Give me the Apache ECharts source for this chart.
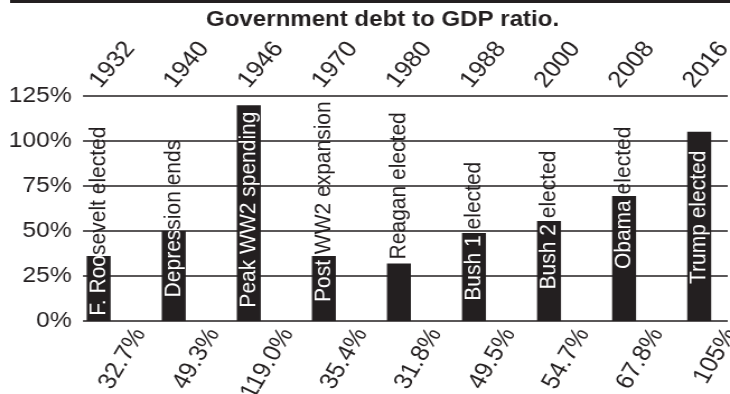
<!DOCTYPE html>
<html><head><meta charset="utf-8">
<script src="https://cdn.jsdelivr.net/npm/echarts@6/dist/echarts.min.js"></script>
<style>
html,body{margin:0;padding:0;background:#fff;overflow:hidden;width:730px;height:394px}
#c{width:652px;height:394px;transform:scaleX(1.1196);transform-origin:0 0}
</style></head>
<body><div id="c"></div>
<script>
// ---- data ----
const years = ['1932','1940','1946','1970','1980','1988','2000','2008','2016'];
const debtValues = [36.1, 50.0, 119.8, 36.1, 31.9, 48.9, 55.6, 69.4, 105.2];
const valueLabels = ['32.7%','49.3%','119.0%','35.4%','31.8%','49.5%','54.7%','67.8%','105%'];
const eventNotes = ['F. Roosevelt elected','Depression ends','Peak WW2 spending','Post WW2 expansion','Reagan elected','Bush 1 elected','Bush 2 elected','Obama elected','Trump elected'];
const noteAnchorPct = [55.5, 56.9, 61.9, 66.3, 75.1, 49.9, 56.1, 68.4, 57.6];
const yMin = 0, yMax = 125, yStep = 25;
const titleText = 'Government debt to GDP ratio.';

// ---- styling ----
const INK = '#231f20';
const FONT = '"Liberation Sans", Arial, Helvetica, sans-serif';
const BAR_W = 21.4;
const PLOT_TOP = 96, PLOT_H = 225;

const chart = echarts.init(document.getElementById('c'), null, {renderer: 'canvas'});

function noteItem(params, api) {
  const i = params.dataIndex;
  const base = api.coord([i, 0]);
  const top = api.coord([i, api.value(1)]);
  const anchor = api.coord([i, noteAnchorPct[i]]);
  const common = {text: eventNotes[i], font: '21px ' + FONT, align: 'center', verticalAlign: 'middle'};
  return {
    type: 'group',
    children: [
      {type: 'text', x: anchor[0], y: anchor[1], rotation: Math.PI / 2,
       style: Object.assign({fill: INK}, common)},
      {type: 'group',
       clipPath: {type: 'rect', shape: {x: base[0] - BAR_W / 2, y: top[1], width: BAR_W, height: base[1] - top[1]}},
       children: [
         {type: 'text', x: anchor[0], y: anchor[1], rotation: Math.PI / 2,
          style: Object.assign({fill: '#ffffff'}, common)}
       ]}
    ]
  };
}

const labelStyle = {fontFamily: FONT, fontSize: 22, color: INK};
const xLabelStyle = {fontFamily: FONT, fontSize: 23, color: INK};
const gridBase = {top: PLOT_TOP, height: PLOT_H, outerBoundsMode: 'none', containLabel: false};

chart.setOption({
  animation: false,
  backgroundColor: '#ffffff',
  title: {
    text: titleText, left: 184, top: 10, padding: 0,
    textStyle: {fontFamily: FONT, fontSize: 21.5, fontWeight: 'bold', color: INK, lineHeight: 21}
  },
  graphic: [
    {type: 'rect', left: 9, top: 0, shape: {width: 660, height: 3}, style: {fill: INK}}
  ],
  grid: [
    Object.assign({left: 74.1, right: 2}, gridBase),
    Object.assign({left: 54.6, width: 603.4}, gridBase),
    Object.assign({left: 91.7, width: 594.4}, gridBase),
    Object.assign({left: 51.6, width: 596.4}, gridBase)
  ],
  xAxis: [
    {gridIndex: 0, type: 'category', data: years, show: false},
    {gridIndex: 1, type: 'category', data: years, show: false},
    {gridIndex: 2, type: 'category', data: valueLabels, position: 'bottom',
     axisLine: {show: false}, axisTick: {show: false}, splitLine: {show: false},
     axisLabel: Object.assign({rotate: 62, interval: 0, margin: 9}, xLabelStyle)},
    {gridIndex: 3, type: 'category', data: years, position: 'top',
     axisLine: {show: false}, axisTick: {show: false}, splitLine: {show: false},
     axisLabel: Object.assign({rotate: 52, interval: 0, margin: 11}, xLabelStyle)}
  ],
  yAxis: [
    {gridIndex: 0, type: 'value', min: yMin, max: yMax, interval: yStep,
     axisLine: {show: false}, axisTick: {show: false},
     axisLabel: Object.assign({formatter: '{value}%', margin: 10}, labelStyle),
     splitLine: {show: true, lineStyle: {color: INK, width: 1.5}}},
    {gridIndex: 1, type: 'value', min: yMin, max: yMax, show: false, splitLine: {show: false}},
    {gridIndex: 2, type: 'value', min: yMin, max: yMax, show: false, splitLine: {show: false}},
    {gridIndex: 3, type: 'value', min: yMin, max: yMax, show: false, splitLine: {show: false}}
  ],
  series: [
    {type: 'bar', xAxisIndex: 1, yAxisIndex: 1, data: debtValues, barWidth: BAR_W,
     itemStyle: {color: INK}, z: 3},
    {type: 'custom', xAxisIndex: 1, yAxisIndex: 1, z: 4,
     data: debtValues.map((v, i) => [i, v]), encode: {x: 0, y: 1},
     renderItem: noteItem}
  ]
});
</script>
</body></html>
